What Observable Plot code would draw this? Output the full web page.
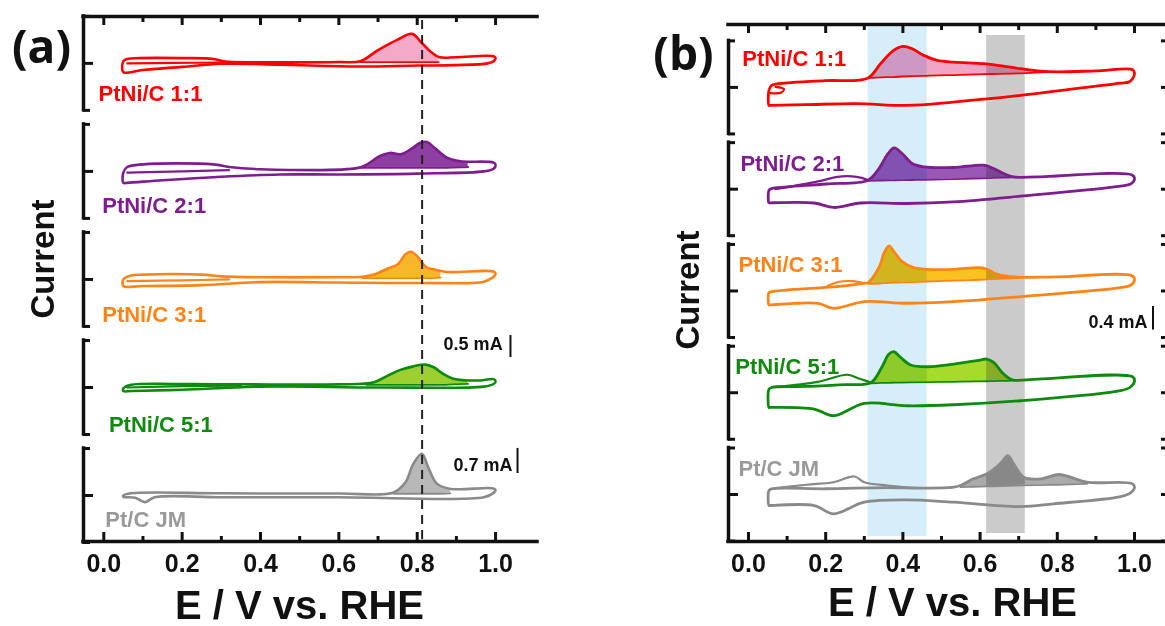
<!DOCTYPE html>
<html><head><meta charset="utf-8">
<script src="https://cdn.jsdelivr.net/npm/d3@7"></script>
<script src="https://cdn.jsdelivr.net/npm/@observablehq/plot@0.6"></script>
<style>
html,body{margin:0;padding:0;background:#fff;overflow:hidden;width:1165px;height:626px;}
#wrap{display:flex;width:1200px;height:626px;}
#pa{flex:none;width:582px;}
#pb{flex:none;width:590px;}
</style></head>
<body><div id="wrap"><div id="pa"></div><div id="pb"></div></div>
<script>
// ---------- categories / ticks ----------
const samples = ["PtNi/C 1:1", "PtNi/C 2:1", "PtNi/C 3:1", "PtNi/C 5:1", "Pt/C JM"];
const xTicks = [0, 0.2, 0.4, 0.6, 0.8, 1.0];
const xMinorTicks = [0.1, 0.3, 0.5, 0.7, 0.9];
const dashedE = 0.8125;                 // panel (a) reference line, V
const blueBand = [0.31, 0.463];          // panel (b) shaded ranges, V
const greyBand = [0.617, 0.717];
const scaleBarsA = ["0.5 mA", "0.7 mA"];
const scaleBarsB = ["0.4 mA"];

// ---------- panel (a): CV outlines [E (V), I (mA, rel. to row)] ----------
const cvA_11 = [[0.05,-0.20],[0.05,0.05],[0.06,0.10],[0.09,0.12],[0.2,0.12],[0.28,0.10],[0.31,0.04],[0.4,0.025],[0.6,0.03],[0.655,0.05],[0.70,0.30],[0.75,0.54],[0.787,0.67],[0.81,0.48],[0.83,0.30],[0.855,0.145],[0.9,0.14],[0.995,0.16],[1.0,0.12],[0.995,0.05],[0.98,0.0],[0.9,-0.04],[0.8,-0.05],[0.65,-0.07],[0.45,-0.03],[0.3,-0.01],[0.2,-0.08],[0.1,-0.15]];
const cvA_21 = [[0.05,-0.26],[0.05,-0.02],[0.06,0.10],[0.1,0.16],[0.28,0.16],[0.32,0.10],[0.4,0.05],[0.65,0.08],[0.672,0.16],[0.705,0.35],[0.73,0.42],[0.757,0.39],[0.783,0.50],[0.808,0.65],[0.825,0.67],[0.845,0.53],[0.876,0.31],[0.91,0.23],[0.995,0.20],[1.0,0.15],[0.995,0.06],[0.97,0.0],[0.8,-0.05],[0.6,-0.07],[0.45,-0.07],[0.3,-0.12],[0.15,-0.2],[0.06,-0.26]];
const cvA_31 = [[0.05,-0.15],[0.05,0.0],[0.07,0.09],[0.1,0.11],[0.25,0.11],[0.3,0.07],[0.4,0.05],[0.6,0.05],[0.66,0.06],[0.69,0.11],[0.725,0.25],[0.75,0.34],[0.77,0.57],[0.783,0.63],[0.80,0.53],[0.812,0.38],[0.825,0.27],[0.842,0.23],[0.876,0.17],[0.995,0.18],[1.0,0.13],[0.995,0.06],[0.97,-0.05],[0.8,-0.08],[0.6,-0.07],[0.4,-0.06],[0.25,-0.13],[0.1,-0.15]];
const cvA_51 = [[0.05,-0.08],[0.05,-0.02],[0.07,0.06],[0.2,0.08],[0.6,0.07],[0.69,0.12],[0.725,0.27],[0.757,0.40],[0.79,0.48],[0.82,0.52],[0.842,0.46],[0.866,0.31],[0.892,0.20],[0.96,0.16],[0.995,0.19],[1.0,0.14],[0.995,0.08],[0.97,0.02],[0.7,0.0],[0.4,0.02],[0.2,-0.05],[0.07,-0.08]];
const cvA_pt = [[0.05,-0.03],[0.05,0.0],[0.07,0.05],[0.3,0.05],[0.6,0.045],[0.74,0.07],[0.77,0.30],[0.79,0.72],[0.812,0.95],[0.828,0.64],[0.85,0.27],[0.885,0.15],[0.995,0.16],[1.0,0.12],[0.995,0.06],[0.97,-0.04],[0.6,-0.04],[0.3,-0.04],[0.13,-0.04],[0.105,-0.15],[0.08,-0.05]];
// stripping peaks [E, baseline I, peak I]
const peakA_11 = [[0.655,0.03,0.05],[0.70,0.03,0.30],[0.75,0.03,0.54],[0.787,0.03,0.67],[0.81,0.03,0.48],[0.83,0.03,0.30],[0.855,0.03,0.145]];
const peakA_21 = [[0.65,0.08,0.08],[0.672,0.08,0.16],[0.705,0.08,0.35],[0.73,0.08,0.42],[0.757,0.08,0.39],[0.783,0.08,0.50],[0.808,0.08,0.65],[0.825,0.08,0.67],[0.845,0.08,0.53],[0.876,0.08,0.31],[0.91,0.09,0.23],[0.93,0.10,0.22]];
const peakA_31 = [[0.66,0.03,0.06],[0.69,0.03,0.11],[0.725,0.03,0.25],[0.75,0.03,0.34],[0.77,0.03,0.57],[0.783,0.03,0.63],[0.80,0.03,0.53],[0.812,0.03,0.38],[0.825,0.03,0.27],[0.842,0.03,0.23],[0.86,0.04,0.20]];
const peakA_51 = [[0.67,0.06,0.08],[0.69,0.06,0.12],[0.725,0.06,0.27],[0.757,0.06,0.40],[0.79,0.06,0.48],[0.82,0.06,0.52],[0.842,0.06,0.46],[0.866,0.06,0.31],[0.892,0.07,0.20],[0.93,0.08,0.16]];
const peakA_pt = [[0.74,0.04,0.07],[0.77,0.04,0.30],[0.79,0.04,0.72],[0.812,0.04,0.95],[0.828,0.04,0.64],[0.85,0.04,0.27],[0.885,0.05,0.15]];
// second-scan inner traces
const innerA_11 = [[0.06,0.0],[0.18,0.01],[0.3,0.02]];
const innerA_21 = [[0.06,-0.03],[0.2,0.0],[0.32,0.03]];
const innerA_31 = [[0.06,-0.04],[0.2,-0.02],[0.32,0.0]];
const innerA_51 = [[0.06,0.0],[0.2,0.03],[0.35,0.04]];
const innerA_pt = [];

// ---------- panel (b) ----------
const cvB_11 = [[0.053,-0.313],[0.053,-0.05],[0.06,0.035],[0.1,0.078],[0.2,0.117],[0.31,0.165],[0.342,0.412],[0.376,0.643],[0.40,0.713],[0.424,0.673],[0.454,0.557],[0.489,0.47],[0.532,0.44],[0.609,0.412],[0.645,0.383],[0.705,0.325],[0.757,0.283],[0.80,0.27],[0.9,0.287],[0.995,0.308],[1.0,0.25],[0.995,0.15],[0.985,0.092],[0.964,0.075],[0.705,-0.139],[0.53,-0.256],[0.41,-0.313],[0.28,-0.283],[0.15,-0.30],[0.055,-0.313]];
const cvB_21 = [[0.053,-0.238],[0.053,-0.02],[0.06,0.012],[0.1,0.04],[0.2,0.09],[0.31,0.157],[0.335,0.33],[0.362,0.621],[0.377,0.718],[0.398,0.621],[0.424,0.447],[0.454,0.388],[0.531,0.377],[0.609,0.417],[0.635,0.36],[0.661,0.273],[0.687,0.214],[0.75,0.214],[0.995,0.243],[1.0,0.17],[0.99,0.09],[0.964,0.052],[0.705,-0.122],[0.531,-0.221],[0.41,-0.249],[0.29,-0.24],[0.221,-0.318],[0.17,-0.24],[0.055,-0.238]];
const cvB_31 = [[0.053,-0.243],[0.053,-0.03],[0.06,-0.012],[0.1,0.017],[0.22,0.07],[0.30,0.134],[0.31,0.144],[0.339,0.423],[0.351,0.656],[0.364,0.783],[0.377,0.683],[0.398,0.51],[0.428,0.405],[0.463,0.377],[0.532,0.377],[0.60,0.405],[0.618,0.377],[0.644,0.29],[0.679,0.249],[0.70,0.238],[0.8,0.245],[0.995,0.261],[1.0,0.19],[0.99,0.1],[0.964,0.057],[0.705,-0.099],[0.531,-0.186],[0.41,-0.214],[0.30,-0.186],[0.22,-0.301],[0.18,-0.214],[0.055,-0.243]];
const cvB_51 = [[0.053,-0.256],[0.053,0.06],[0.06,0.092],[0.15,0.11],[0.25,0.14],[0.318,0.179],[0.345,0.44],[0.364,0.673],[0.377,0.713],[0.394,0.614],[0.42,0.482],[0.463,0.452],[0.532,0.499],[0.592,0.557],[0.618,0.586],[0.635,0.527],[0.661,0.325],[0.683,0.226],[0.75,0.238],[0.995,0.278],[1.0,0.2],[0.99,0.1],[0.964,0.035],[0.705,-0.139],[0.531,-0.209],[0.41,-0.226],[0.30,-0.186],[0.22,-0.40],[0.17,-0.283],[0.055,-0.256]];
const cvB_pt = [[0.053,-0.191],[0.053,0.07],[0.06,0.099],[0.2,0.10],[0.36,0.12],[0.446,0.11],[0.532,0.127],[0.549,0.157],[0.583,0.273],[0.618,0.36],[0.652,0.534],[0.672,0.678],[0.687,0.534],[0.713,0.301],[0.757,0.273],[0.804,0.348],[0.834,0.301],[0.877,0.214],[0.995,0.186],[1.0,0.12],[0.99,0.03],[0.964,-0.035],[0.79,-0.162],[0.705,-0.209],[0.532,-0.134],[0.41,-0.092],[0.30,-0.134],[0.22,-0.336],[0.17,-0.191],[0.055,-0.191]];
const peakB_11 = [[0.31,0.165,0.165],[0.342,0.175,0.412],[0.376,0.18,0.643],[0.40,0.19,0.713],[0.424,0.195,0.673],[0.454,0.20,0.557],[0.489,0.21,0.47],[0.532,0.215,0.44],[0.609,0.23,0.412],[0.645,0.235,0.383],[0.705,0.245,0.325],[0.757,0.26,0.283],[0.80,0.27,0.27]];
const peakB_21 = [[0.31,0.145,0.157],[0.335,0.15,0.33],[0.362,0.152,0.621],[0.377,0.155,0.718],[0.398,0.157,0.621],[0.424,0.16,0.447],[0.454,0.163,0.388],[0.531,0.175,0.377],[0.609,0.19,0.417],[0.635,0.195,0.36],[0.661,0.2,0.273],[0.687,0.205,0.214],[0.70,0.21,0.21]];
const peakB_31 = [[0.31,0.125,0.144],[0.339,0.13,0.423],[0.351,0.135,0.656],[0.364,0.14,0.783],[0.377,0.145,0.683],[0.398,0.15,0.51],[0.428,0.155,0.405],[0.463,0.165,0.377],[0.532,0.18,0.377],[0.60,0.195,0.405],[0.618,0.2,0.377],[0.644,0.21,0.29],[0.679,0.22,0.249],[0.70,0.225,0.238]];
const peakB_51 = [[0.318,0.165,0.179],[0.345,0.17,0.44],[0.364,0.172,0.673],[0.377,0.175,0.713],[0.394,0.177,0.614],[0.42,0.18,0.482],[0.463,0.185,0.452],[0.532,0.19,0.499],[0.592,0.197,0.557],[0.618,0.2,0.586],[0.635,0.203,0.527],[0.661,0.207,0.325],[0.683,0.21,0.226],[0.70,0.215,0.22]];
const peakB_pt = [[0.549,0.13,0.157],[0.583,0.135,0.273],[0.618,0.14,0.36],[0.652,0.145,0.534],[0.672,0.15,0.678],[0.687,0.155,0.534],[0.713,0.16,0.301],[0.757,0.165,0.273],[0.804,0.17,0.348],[0.834,0.175,0.301],[0.877,0.185,0.214]];
const innerB_11 = [[0.056,-0.10],[0.085,-0.09],[0.092,-0.03],[0.07,0.01]];
const innerB_21 = [[0.07,0.0],[0.12,0.06],[0.19,0.15],[0.23,0.215],[0.28,0.215],[0.31,0.16]];
const innerB_31 = [[0.2,0.07],[0.235,0.16],[0.27,0.17],[0.3,0.134]];
const innerB_51 = [[0.07,0.10],[0.18,0.19],[0.256,0.313],[0.29,0.238],[0.318,0.179]];
const innerB_pt = [[0.07,0.11],[0.15,0.17],[0.22,0.214],[0.275,0.313],[0.30,0.214],[0.36,0.157],[0.446,0.11]];

// ---------- styling (kept apart from data) ----------
const lineColors = ["#FF0000", "#7E1E8E", "#FF8418", "#0E8A0E", "#8A8A8A"];
const labelColors = ["#FF0000", "#7E1E8E", "#FF8418", "#0E8A0E", "#9A9A9A"];
const fillA = ["#F5A8C8", "#8E3FA2", "#F8B62A", "#9CCF30", "#B8B8B8"];
const fillB = ["#F2A4C6", "#9A58B6", "#FAC21E", "#A8DA2C", "#ABABAB"];
const FONT = "'Liberation Sans', Arial, Helvetica, sans-serif";
const INK = "#111";

function flatPts(arrs, centers) {
  return arrs.flatMap((pts, i) => pts.map(([E, I]) => ({i, E, y: centers[i] + I})));
}
function flatPeaks(arrs, centers) {
  return arrs.flatMap((pts, i) => pts.map(([E, b, t]) => ({i, E, y1: centers[i] + b, y2: centers[i] + t})));
}

function panel(cfg) {
  const {cvs, peaks, inners, fills, centers, half, xDom, yTop, width, mL, mR, mT, mB} = cfg;
  const outline = flatPts(cvs, centers);
  const inner = flatPts(inners, centers);
  const pk = flatPeaks(peaks, centers);
  const xMin = xDom[0], xMax = xDom[1];
  const rows = centers.map((c, i) => ({i, c}));
  const serifs = rows.flatMap(r => [r.c - half, r.c + half]);
  const marks = [];
  marks.push(Plot.areaY(pk, {x: "E", y1: "y1", y2: "y2", z: "i", fill: d => fills[d.i], curve: "catmull-rom"}));
  if (cfg.bands) marks.push(...cfg.bands);
  marks.push(Plot.line(pk, {x: "E", y: "y1", z: "i", stroke: d => lineColors[d.i], strokeWidth: 1.8, curve: "catmull-rom"}));
  marks.push(Plot.line(inner, {x: "E", y: "y", z: "i", stroke: d => lineColors[d.i], strokeWidth: 2.2, curve: "catmull-rom"}));
  marks.push(Plot.line(outline, {x: "E", y: "y", z: "i", stroke: d => lineColors[d.i], strokeWidth: cfg.lw, curve: "catmull-rom-closed"}));
  if (cfg.extra) marks.push(...cfg.extra);
  // frame lines (top & bottom)
  marks.push(Plot.ruleY([0, yTop], {stroke: INK, strokeWidth: 3.5, strokeLinecap: "square"}));
  // x ticks, top (pointing down) and bottom (pointing up)
  marks.push(Plot.ruleX(xTicks, {x: d => d, y1: () => yTop, y2: () => yTop, insetBottom: -9, stroke: INK, strokeWidth: 3}));
  marks.push(Plot.ruleX(xMinorTicks, {x: d => d, y1: () => yTop, y2: () => yTop, insetBottom: -6, stroke: INK, strokeWidth: 3}));
  marks.push(Plot.ruleX(xTicks, {x: d => d, y1: () => 0, y2: () => 0, insetTop: -9, stroke: INK, strokeWidth: 3}));
  marks.push(Plot.ruleX(xMinorTicks, {x: d => d, y1: () => 0, y2: () => 0, insetTop: -5, stroke: INK, strokeWidth: 3}));
  // stacked left brackets
  marks.push(Plot.ruleX(rows, {x: () => xMin, y1: d => d.c - half, y2: d => d.c + half, stroke: INK, strokeWidth: 3.5, strokeLinecap: "square"}));
  marks.push(Plot.ruleY(serifs, {y: d => d, x1: () => xMin, x2: () => xMin, insetRight: -7, stroke: INK, strokeWidth: 3}));
  marks.push(Plot.ruleY(centers, {y: d => d, x1: () => xMin, x2: () => xMin, insetRight: -10, stroke: INK, strokeWidth: 3}));
  if (cfg.rightBrackets) {
    marks.push(Plot.ruleX(rows, {x: () => xMax, y1: d => d.c - half, y2: d => d.c + half, stroke: INK, strokeWidth: 3.5}));
    marks.push(Plot.ruleY(serifs.concat(centers), {y: d => d, x1: () => xMax, x2: () => xMax, insetLeft: -8, stroke: INK, strokeWidth: 3}));
  }
  // x axis tick labels
  marks.push(Plot.axisX(xTicks, {anchor: "bottom", tickSize: 0, tickPadding: 13, tickFormat: d => d.toFixed(1), fontSize: 25, fontWeight: "bold", fill: INK, label: null, fontFamily: FONT}));
  // sample labels
  marks.push(Plot.text(samples, {x: (d, i) => cfg.labelX[i], y: (d, i) => centers[i] + cfg.labelDy[i], text: d => d, fill: (d, i) => labelColors[i], textAnchor: "start", lineAnchor: "middle", fontSize: 22, fontWeight: "bold", fontFamily: FONT}));
  // titles
  marks.push(Plot.text([cfg.tag], {frameAnchor: "top-left", dx: cfg.tagDx, dy: cfg.tagDy, textAnchor: "middle", lineAnchor: "middle", fontSize: 46, fontWeight: "bold", fontFamily: "'Open Sans', 'Noto Sans', sans-serif", fill: INK}));
  marks.push(Plot.text(["Current"], {frameAnchor: "left", dx: cfg.curDx, dy: cfg.curDy, rotate: -90, textAnchor: "middle", lineAnchor: "middle", fontSize: 33, fontWeight: "bold", fontFamily: FONT, fill: INK}));
  marks.push(Plot.text(["E / V vs. RHE"], {frameAnchor: "bottom", dx: cfg.titleDx, dy: cfg.titleDy, textAnchor: "middle", lineAnchor: "middle", fontSize: 40, fontWeight: "bold", fontFamily: FONT, fill: INK}));
  return Plot.plot({
    width, height: 626, marginLeft: mL, marginRight: mR, marginTop: mT, marginBottom: mB,
    x: {domain: xDom, axis: null}, y: {domain: [0, yTop], axis: null},
    style: `font-family:${FONT};background:white;max-width:none;overflow:visible;`,
    marks
  });
}

// ---- panel (a) layout ----
const centersA = [0, 1, 2, 3, 4].map(i => 1.045 + (4 - i) * 2.455);
const yTopA = 11.93;
const barsA = [
  {label: scaleBarsA[0], tx: 1.018, ty: centersA[3] + 0.98, bx: 1.038, y1: centersA[3] + 0.68, y2: centersA[3] + 1.18},
  {label: scaleBarsA[1], tx: 1.043, ty: centersA[4] + 0.68, bx: 1.056, y1: centersA[4] + 0.50, y2: centersA[4] + 1.07}
];
const svgA = panel({
  cvs: [cvA_11, cvA_21, cvA_31, cvA_51, cvA_pt],
  peaks: [peakA_11, peakA_21, peakA_31, peakA_51, peakA_pt],
  inners: [innerA_11, innerA_21, innerA_31, innerA_51, innerA_pt],
  fills: fillA, centers: centersA, half: 1.068, lw: 2.6,
  xDom: [-0.0518, 1.107], yTop: yTopA, width: 582, mL: 83, mR: 45, mT: 16, mB: 85,
  labelX: [-0.0135, -0.004, -0.004, 0.013, 0.004],
  labelDy: [-0.69, -0.79, -0.81, -0.86, -0.55],
  tag: "(a)", tagDx: -42, tagDy: 32,
  curDx: -40, curDy: -20,
  titleDx: -11, titleDy: 65,
  extra: [
    Plot.ruleX([dashedE], {x: d => d, stroke: "#222", strokeWidth: 2, strokeDasharray: "9,6", insetTop: 4}),
    Plot.ruleX(barsA, {x: "bx", y1: "y1", y2: "y2", stroke: INK, strokeWidth: 2}),
    Plot.text(barsA, {x: "tx", y: "ty", text: "label", textAnchor: "end", lineAnchor: "middle", fontSize: 18, fontWeight: "bold", fontFamily: FONT, fill: INK})
  ]
});
document.getElementById("pa").append(svgA);

// ---- panel (b) layout ----
const centersB = [0, 1, 2, 3, 4].map(i => 0.817 + (4 - i) * 1.77);
const yTopB = 8.991;
const barsB = [{label: scaleBarsB[0], tx: 1.034, ty: centersB[2] - 0.548, bx: 1.048, y1: centersB[2] - 0.68, y2: centersB[2] - 0.27}];
const svgB = panel({
  cvs: [cvB_11, cvB_21, cvB_31, cvB_51, cvB_pt],
  peaks: [peakB_11, peakB_21, peakB_31, peakB_51, peakB_pt],
  inners: [innerB_11, innerB_21, innerB_31, innerB_51, innerB_pt],
  fills: fillB, centers: centersB, half: 0.809, lw: 2.8,
  xDom: [-0.0518, 1.0907], yTop: yTopB, width: 590, mL: 146, mR: 3, mT: 24, mB: 85,
  labelX: [-0.016, -0.021, -0.026, -0.034, -0.026],
  labelDy: [0.487, 0.443, 0.452, 0.443, 0.443],
  tag: "(b)", tagDx: -45, tagDy: 31,
  curDx: -40, curDy: 7,
  titleDx: 3.5, titleDy: 61.5,
  rightBrackets: true,
  bands: [
    Plot.rect([blueBand], {x1: d => d[0], x2: d => d[1], fill: "#D6EEFA", insetTop: 3, insetBottom: 5, mixBlendMode: "multiply"}),
    Plot.rect([greyBand], {x1: d => d[0], x2: d => d[1], fill: "#CBCBCB", insetTop: 11, insetBottom: 8, mixBlendMode: "multiply"})
  ],
  extra: [
    Plot.ruleX(barsB, {x: "bx", y1: "y1", y2: "y2", stroke: INK, strokeWidth: 2}),
    Plot.text(barsB, {x: "tx", y: "ty", text: "label", textAnchor: "end", lineAnchor: "middle", fontSize: 18, fontWeight: "bold", fontFamily: FONT, fill: INK})
  ]
});
document.getElementById("pb").append(svgB);
</script>
</body></html>
